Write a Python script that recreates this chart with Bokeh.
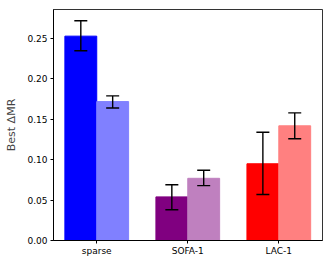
from bokeh.plotting import figure
from bokeh.models import ColumnDataSource, Range1d, FixedTicker, Whisker, TeeHead, NumeralTickFormatter
from bokeh.embed import file_html
from bokeh.resources import INLINE

categories = ["sparse", "SOFA-1", "LAC-1"]
dark_values = [0.253, 0.054, 0.095]
dark_lower = [0.235, 0.038, 0.057]
dark_upper = [0.272, 0.069, 0.134]
light_values = [0.172, 0.077, 0.142]
light_lower = [0.164, 0.068, 0.126]
light_upper = [0.179, 0.087, 0.158]
dark_colors = ["#0000ff", "#800080", "#ff0000"]
light_colors = ["#8080ff", "#bf80bf", "#ff8080"]
y_ticks = [0.0, 0.05, 0.10, 0.15, 0.20, 0.25]

width = 0.35
pos = list(range(len(categories)))

dark_src = ColumnDataSource(dict(
    x=[p_ - width / 2 for p_ in pos], top=dark_values, lower=dark_lower,
    upper=dark_upper, color=dark_colors))
light_src = ColumnDataSource(dict(
    x=[p_ + width / 2 for p_ in pos], top=light_values, lower=light_lower,
    upper=light_upper, color=light_colors))

p = figure(width=332, height=266, output_backend="svg", toolbar_location=None,
           x_range=Range1d(-0.475, 2.48), y_range=Range1d(0, 0.286),
           min_border_left=53, min_border_right=10, min_border_top=9,
           min_border_bottom=26)

p.vbar(x="x", top="top", width=width, bottom=0, source=dark_src,
       fill_color="color", line_color="color")
p.vbar(x="x", top="top", width=width, bottom=0, source=light_src,
       fill_color="color", line_color="color")

for src in (dark_src, light_src):
    w = Whisker(source=src, base="x", upper="upper", lower="lower",
                line_width=1.4, line_color="black", level="overlay",
                upper_head=TeeHead(size=13, line_width=1.4, line_color="black"),
                lower_head=TeeHead(size=13, line_width=1.4, line_color="black"))
    p.add_layout(w)

p.xgrid.visible = False
p.ygrid.visible = False
p.xaxis.ticker = FixedTicker(ticks=pos)
p.xaxis.major_label_overrides = {i: c for i, c in enumerate(categories)}
p.yaxis.ticker = FixedTicker(ticks=y_ticks)
p.yaxis.formatter = NumeralTickFormatter(format="0.00")
p.yaxis.axis_label = "Best ΔMR"
for ax in (p.xaxis, p.yaxis):
    ax.minor_tick_line_color = None
    ax.major_tick_in = 0
    ax.major_tick_out = 3
    ax.axis_line_color = "black"
    ax.major_tick_line_color = "black"
    ax.major_label_text_font = "DejaVu Sans"
    ax.major_label_text_font_size = "9px"
    ax.major_label_text_color = "black"
    ax.major_label_standoff = 3
p.xaxis.major_label_standoff = 2
p.yaxis.axis_label_text_font = "DejaVu Sans"
p.yaxis.axis_label_text_font_size = "11px"
p.yaxis.axis_label_text_font_style = "normal"
p.yaxis.axis_label_standoff = 6
p.outline_line_color = "black"
p.outline_line_alpha = 0.8

open("out.html", "w").write(file_html(p, INLINE))
